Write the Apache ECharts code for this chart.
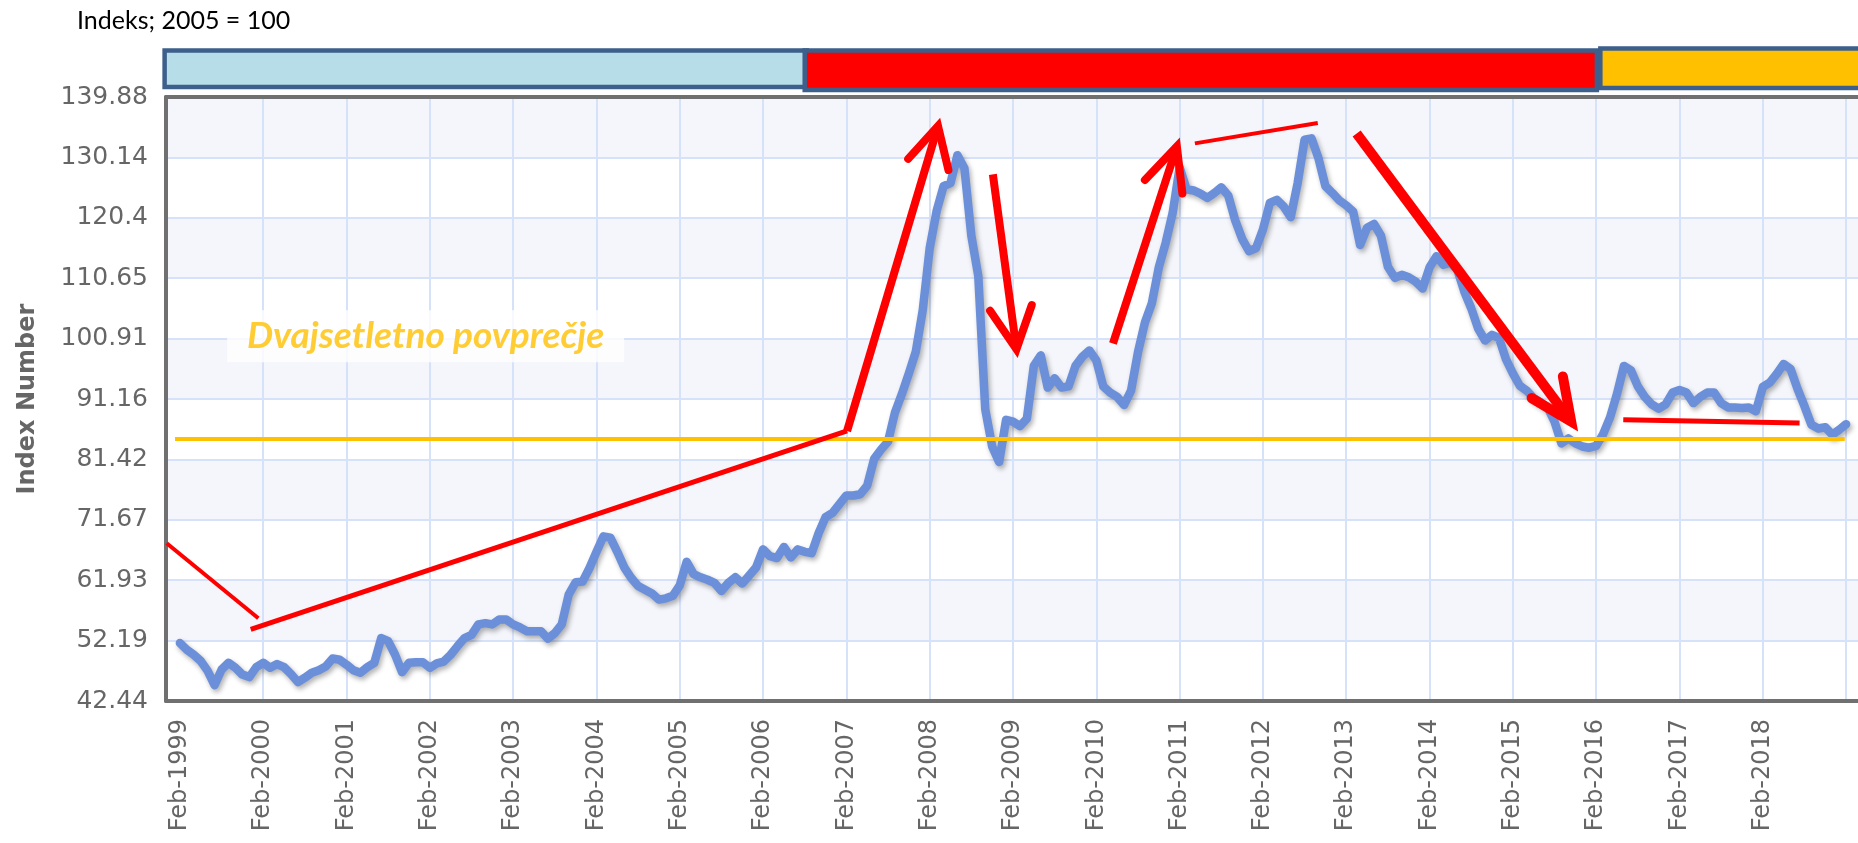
<!DOCTYPE html>
<html>
<head>
<meta charset="utf-8">
<title>Indeks; 2005 = 100</title>
<script src="https://cdn.jsdelivr.net/npm/echarts@6/dist/echarts.min.js"></script>
<style>
    html, body { margin: 0; padding: 0; background: #fff; }
    #chart { width: 1858px; height: 843px; }
</style>
</head>
<body>
<div id="chart"></div>
<script>
    // mesecni indeks, Feb-1999 .. Feb-2019 (odcitano s slike)
    var indexValues = [
        51.8, 50.7, 49.9, 48.9, 47.3, 45.0, 47.5, 48.6, 47.8, 46.7, 46.3, 47.9,
        48.6, 47.8, 48.4, 47.9, 46.8, 45.5, 46.2, 47.0, 47.4, 48.0, 49.3, 49.1,
        48.3, 47.4, 47.0, 47.9, 48.6, 52.6, 52.1, 49.9, 47.1, 48.6, 48.7, 48.7,
        47.8, 48.5, 48.8, 49.9, 51.3, 52.6, 53.1, 54.8, 55.0, 54.8, 55.6, 55.6,
        54.8, 54.3, 53.7, 53.7, 53.7, 52.5, 53.4, 54.8, 59.6, 61.6, 61.7, 63.9,
        66.5, 69.0, 68.8, 66.5, 64.0, 62.3, 61.0, 60.4, 59.8, 58.8, 59.0, 59.4,
        61.1, 64.9, 62.9, 62.4, 62.0, 61.5, 60.2, 61.5, 62.4, 61.4, 62.7, 64.0,
        66.9, 65.8, 65.5, 67.3, 65.6, 66.9, 66.5, 66.3, 69.5, 72.1, 72.8, 74.2,
        75.6, 75.6, 75.8, 77.2, 81.5, 83.0, 84.3, 89.0, 92.0, 95.3, 98.8, 105.5,
        115.5, 121.5, 125.5, 126.0, 130.5, 128.4, 117.5, 111.0, 89.5, 83.5, 81.0, 87.8,
        87.5, 86.8, 88.0, 96.5, 98.2, 93.0, 94.5, 93.0, 93.2, 96.5, 98.0, 99.0,
        97.4, 93.2, 92.2, 91.5, 90.2, 92.5, 98.7, 103.5, 106.6, 112.4, 116.4, 121.2,
        128.5, 125.0, 124.8, 124.3, 123.6, 124.4, 125.3, 124.0, 120.0, 117.0, 115.0, 115.5,
        118.5, 122.8, 123.3, 122.2, 120.5, 126.0, 133.0, 133.2, 130.0, 125.5, 124.4, 123.2,
        122.4, 121.4, 116.0, 118.8, 119.4, 117.5, 112.5, 110.7, 111.2, 110.8, 110.1, 109.0,
        112.4, 114.2, 112.8, 113.2, 112.0, 108.5, 105.8, 102.5, 100.6, 101.5, 101.0, 97.6,
        95.3, 93.3, 92.5, 91.3, 90.6, 89.8, 87.5, 84.0, 84.8, 84.0, 83.5, 83.3,
        83.6, 85.5, 88.2, 92.0, 96.5, 95.8, 93.2, 91.5, 90.3, 89.6, 90.3, 92.2,
        92.6, 92.2, 90.5, 91.5, 92.2, 92.2, 90.5, 89.8, 89.8, 89.7, 89.8, 89.2,
        93.1, 93.8, 95.2, 96.8, 96.0, 92.8, 90.0, 87.0, 86.4, 86.6, 85.4, 86.2,
        87.1
    ];
    var monthNames = ['Jan','Feb','Mar','Apr','May','Jun','Jul','Aug','Sep','Oct','Nov','Dec'];
    var firstYear = 1999, firstMonth = 1;   // Feb-1999 = mesec 0
    var axisFrom = -2, axisTo = 242;        // os od Dec-1998 do Apr-2019

    var yTickLabels = ['42.44','52.19','61.93','71.67','81.42','91.16','100.91','110.65','120.4','130.14','139.88'];
    var yMin = 42.44, yMax = 139.88, yStep = 9.744;

    var twentyYearAverage = 84.7;
    var averageSpan = [-0.7, 239.8];

    // rdece oznake: [mesec od Feb-1999, vrednost indeksa]
    var redLines = [
        [[-1.9, 67.9], [11.3, 55.8]],
        [[10.2, 54.0], [96.1, 86.0]],
        [[96.1, 86.0], [109.2, 135.2]],
        [[104.9, 129.9], [109.2, 135.2], [110.7, 128.1]],
        [[117.1, 127.4], [120.5, 99.2]],
        [[116.7, 105.4], [120.5, 99.2], [122.7, 106.3]],
        [[134.4, 100.1], [143.6, 131.9]],
        [[139.0, 126.5], [143.6, 131.9], [144.4, 124.3]],
        [[146.2, 132.4], [163.9, 135.7]],
        [[169.5, 134.0], [200.4, 87.5]],
        [[194.7, 91.3], [200.4, 87.5], [199.2, 94.8]],
        [[207.9, 87.8], [233.3, 87.3]]
    ];
    var redWidths = [4, 5, 8, 8, 8, 8, 8, 8, 4, 10, 10, 5];

    // obdobja nad grafom
    var periodStart = [-2.2, 90.0, 204.6];
    var periodEnd = [90.3, 204.1, 245];
    var periodColors = ['#b7dde8', '#ff0000', '#ffc000'];
    var periodTop = [-46.5, -46.5, -48.5];
    var periodHeight = [36.5, 39.5, 39.5];

    var averageLabel = 'Dvajsetletno povprečje';
    var averageLabelAt = [35.4, 101.3];

    var categories = [];
    for (var m = axisFrom; m <= axisTo; m++) {
        var mm = firstMonth + m;
        var yy = firstYear + Math.floor(mm / 12);
        categories.push(monthNames[((mm % 12) + 12) % 12] + '-' + yy);
    }
    var lineData = [];
    for (var k = axisFrom; k < 0; k++) { lineData.push(null); }
    lineData = lineData.concat(indexValues);

    var gridColor = '#d6e2fa';
    var frameColor = '#707070';
    var labelColor = '#666';

    var series = [
        {
            type: 'custom',
            xAxisIndex: 1,
            yAxisIndex: 0,
            clip: false,
            silent: true,
            z: 1,
            data: periodStart.map(function (s, i) { return [s, periodEnd[i], i]; }),
            encode: { x: [0, 1] },
            renderItem: function (params, api) {
                var i = api.value(2);
                var x0 = api.coord([api.value(0), yMax])[0];
                var x1 = api.coord([api.value(1), yMax])[0];
                var top = params.coordSys.y;
                return {
                    type: 'rect',
                    shape: { x: x0, y: top + periodTop[i], width: x1 - x0, height: periodHeight[i] },
                    style: { fill: periodColors[i], stroke: '#3d5f8b', lineWidth: 4.5 }
                };
            }
        },
        {
            name: 'Indeks',
            type: 'line',
            xAxisIndex: 0,
            yAxisIndex: 0,
            data: lineData,
            symbol: 'none',
            z: 3,
            lineStyle: {
                color: '#6b8fd9',
                width: 8.5,
                join: 'round',
                cap: 'round',
                shadowColor: 'rgba(0,0,0,0.3)',
                shadowBlur: 5,
                shadowOffsetX: 2,
                shadowOffsetY: 3
            }
        },
        {
            type: 'line',
            xAxisIndex: 1,
            yAxisIndex: 0,
            data: [[averageSpan[0], twentyYearAverage], [averageSpan[1], twentyYearAverage]],
            symbol: 'none',
            z: 4,
            lineStyle: { color: '#ffc000', width: 4 }
        },
        {
            type: 'scatter',
            xAxisIndex: 1,
            yAxisIndex: 0,
            data: [averageLabelAt],
            symbol: 'rect',
            symbolSize: [397, 52],
            itemStyle: { color: '#ffffff' },
            z: 4,
            silent: true,
            label: {
                show: true,
                position: 'inside',
                formatter: averageLabel,
                color: '#ffc000',
                fontFamily: 'Lato',
                fontStyle: 'italic',
                fontWeight: 'bold',
                fontSize: 37
            }
        }
    ];
    redLines.forEach(function (pts, i) {
        series.push({
            type: 'line',
            xAxisIndex: 1,
            yAxisIndex: 0,
            data: pts,
            symbol: 'none',
            z: 5,
            silent: true,
            lineStyle: { color: '#ff0000', width: redWidths[i], cap: pts.length > 2 ? 'round' : 'butt', join: 'miter' }
        });
    });

    var option = {
        animation: false,
        title: {
            text: 'Indeks; 2005 = 100',
            left: 72,
            top: 3,
            textStyle: { fontFamily: 'Lato', fontWeight: 'normal', fontSize: 25, color: '#000' }
        },
        grid: { left: 166, right: -2, top: 97, bottom: 142, containLabel: false, outerBoundsMode: 'none' },
        xAxis: [
            {
                type: 'category',
                data: categories,
                boundaryGap: false,
                position: 'bottom',
                axisLine: { show: true, onZero: false, lineStyle: { color: frameColor, width: 4 } },
                axisTick: { show: false },
                axisLabel: {
                    rotate: 90,
                    margin: 18,
                    color: labelColor,
                    fontFamily: 'DejaVu Sans',
                    fontSize: 24,
                    interval: function (i) { return i >= 2 && i <= 230 && (i - 2) % 12 === 0; }
                },
                splitLine: {
                    show: true,
                    interval: function (i) { return i > 2 && (i - 2) % 12 === 0; },
                    lineStyle: { color: gridColor, width: 2 }
                }
            },
            {
                type: 'value',
                min: axisFrom,
                max: axisTo,
                position: 'top',
                axisLine: { show: true, onZero: false, lineStyle: { color: frameColor, width: 4 } },
                axisTick: { show: false },
                axisLabel: { show: false },
                splitLine: { show: false }
            }
        ],
        yAxis: [{
            type: 'value',
            min: yMin,
            max: yMax,
            interval: yStep,
            name: 'Index Number',
            nameLocation: 'middle',
            nameGap: 126,
            nameTextStyle: { color: labelColor, fontFamily: 'DejaVu Sans', fontWeight: 'bold', fontSize: 24 },
            axisLine: { show: true, onZero: false, lineStyle: { color: frameColor, width: 4 } },
            axisTick: { show: false },
            axisLabel: {
                margin: 18,
                color: labelColor,
                fontFamily: 'DejaVu Sans',
                fontSize: 25,
                formatter: function (value) {
                    return yTickLabels[Math.round((value - yMin) / yStep)];
                }
            },
            splitLine: { show: true, lineStyle: { color: gridColor, width: 2 } },
            splitArea: { show: true, areaStyle: { color: ['#ffffff', '#f4f6fb'] } }
        }],
        series: series
    };

    var chart = echarts.init(document.getElementById('chart'));
    chart.setOption(option);
</script>
</body>
</html>
